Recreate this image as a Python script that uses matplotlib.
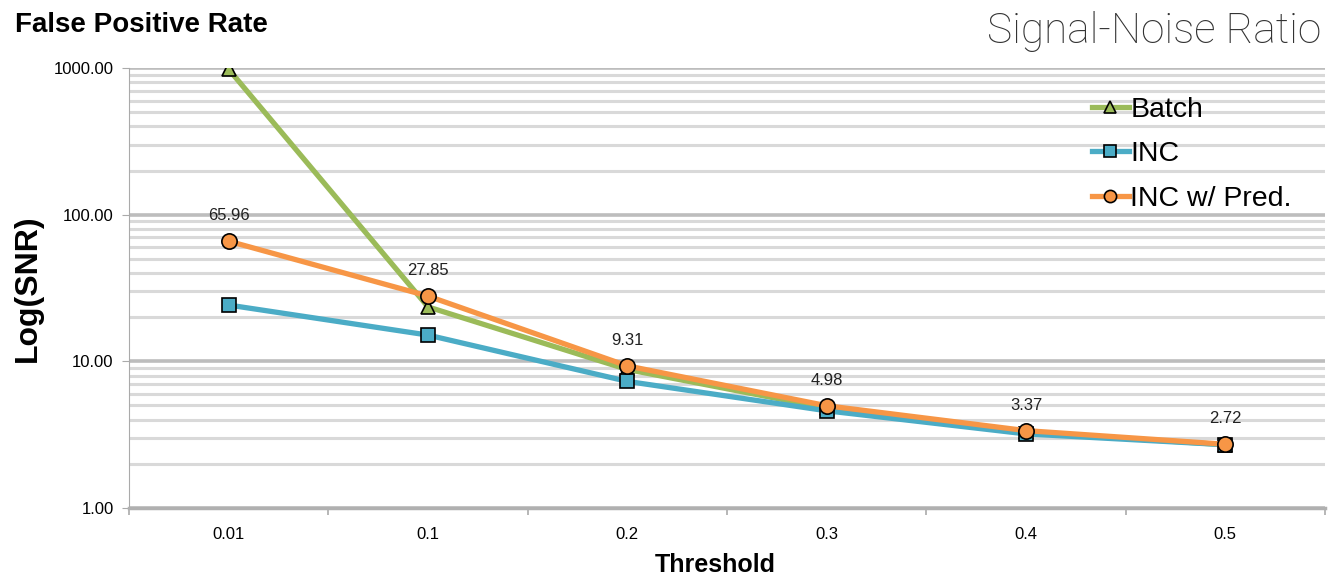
import matplotlib
matplotlib.use("Agg")
from matplotlib import pyplot as plt
from matplotlib.ticker import LogLocator, NullFormatter, FixedLocator

thresholds = ["0.01", "0.1", "0.2", "0.3", "0.4", "0.5"]
batch = [980, 23.5, 8.8, 4.8, 3.3, 2.7]
inc = [24.2, 15.1, 7.3, 4.6, 3.2, 2.7]
inc_pred = [65.96, 27.85, 9.31, 4.98, 3.37, 2.72]
pred_labels = ["65.96", "27.85", "9.31", "4.98", "3.37", "2.72"]

plt.rcParams['font.family'] = ['Liberation Sans', 'DejaVu Sans']

fig = plt.figure(figsize=(13.35, 5.83), dpi=100)
ax = fig.add_axes([129 / 1335, 1 - 508 / 583, 1196 / 1335, 440 / 583])

x = [i + 0.5 for i in range(len(thresholds))]

ax.plot(x, batch, color='#9BBB59', lw=3.8, marker='^', ms=10.5, mfc='#9BBB59',
        mec='black', mew=1.2, label='Batch', zorder=3)
ax.plot(x, inc, color='#4BACC6', lw=3.8, marker='s', ms=10, mfc='#4BACC6',
        mec='black', mew=1.2, label='INC', zorder=4)
ax.plot(x, inc_pred, color='#F79646', lw=3.8, marker='o', ms=11, mfc='#F79646',
        mec='black', mew=1.2, label='INC w/ Pred.', zorder=5)

for xi, yi, lab in zip(x, inc_pred, pred_labels):
    ax.annotate(lab, (xi, yi), xytext=(0, 13), textcoords='offset points',
                ha='center', va='bottom', fontsize=12, color='#222222')

ax.set_yscale('log')
ax.set_ylim(1, 1000)
ax.set_xlim(0, 6)
ax.yaxis.set_major_locator(FixedLocator([1, 10, 100, 1000]))
ax.set_yticklabels(["1.00", "10.00", "100.00", "1000.00"])
ax.yaxis.set_minor_locator(LogLocator(base=10, subs=range(2, 10)))
ax.yaxis.set_minor_formatter(NullFormatter())
ax.grid(which='major', axis='y', color='#bdbdbd', lw=2.6)
ax.grid(which='minor', axis='y', color='#d9d9d9', lw=2.2)
ax.set_axisbelow(True)

ax.set_xticks(x)
ax.set_xticklabels(thresholds)
ax.set_xticks(range(7), minor=True)
ax.tick_params(axis='x', which='major', length=0, pad=14, labelsize=12)
ax.tick_params(axis='x', which='minor', length=5, color='#aaaaaa', width=1.2)
ax.tick_params(axis='y', which='major', length=5, color='#aaaaaa', labelsize=12,
               pad=6)
ax.tick_params(axis='y', which='minor', length=0)

for s in ['top', 'right']:
    ax.spines[s].set_visible(False)
ax.spines['left'].set_color('#aaaaaa')
ax.spines['bottom'].set_color('#b0b0b0')
ax.spines['bottom'].set_linewidth(2.5)

ax.set_ylabel("Log(SNR)", fontsize=23, fontweight='bold', labelpad=8)
ax.set_xlabel("Threshold", fontsize=18, fontweight='bold')
ax.xaxis.set_label_coords(0.49, -0.102)

leg = ax.legend(loc='upper left', bbox_to_anchor=(0.805, 0.935), frameon=False,
                fontsize=20.5, handlelength=1.3, handletextpad=0.05,
                labelspacing=0.65, borderaxespad=0, borderpad=0,
                markerscale=0.8)

fig.text(15 / 1335, 1 - 25 / 583, "False Positive Rate", fontsize=20,
         fontweight='bold', va='center', ha='left')
fig.text(1321 / 1335, 1 - 32 / 583, "Signal-Noise Ratio", fontsize=30.5,
         family=['Roboto', 'DejaVu Sans'], fontweight='light', color='#333333',
         va='center', ha='right')

fig.savefig("out.png", dpi=100)
